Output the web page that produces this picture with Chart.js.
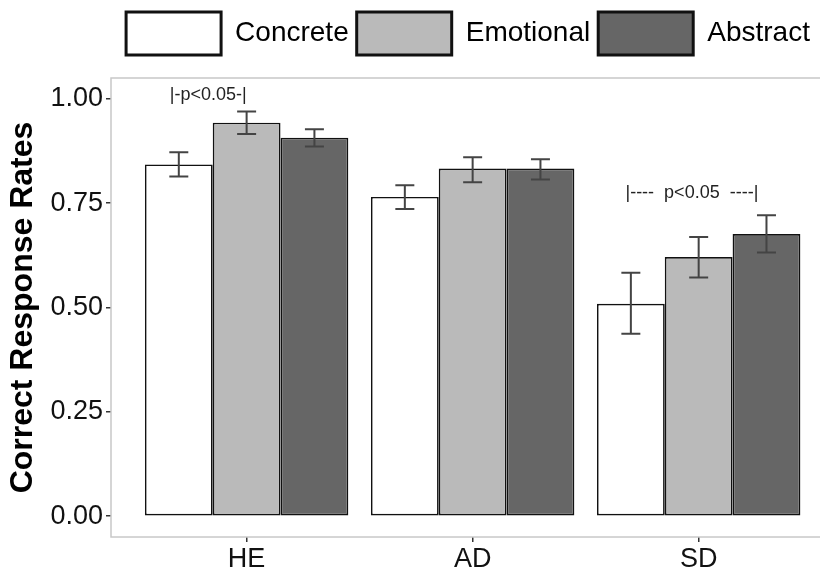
<!DOCTYPE html>
<html>
<head>
<meta charset="utf-8">
<script src="https://cdn.jsdelivr.net/npm/chart.js@4/dist/chart.umd.min.js"></script>
<style>
  html, body { margin: 0; padding: 0; background: #fff; overflow: hidden; }
  #wrap { width: 820px; height: 574px; overflow: hidden; }
</style>
</head>
<body>
<div id="wrap"><canvas id="chart" width="936" height="574"></canvas></div>
<script>
const groups = ['HE', 'AD', 'SD'];
const seriesNames = ['Concrete', 'Emotional', 'Abstract'];
const seriesColors = ['#ffffff', '#bababa', '#666666'];

const concrete = [0.843, 0.765, 0.509];
const emotional = [0.943, 0.833, 0.621];
const abstract = [0.907, 0.833, 0.676];

const concreteLow = [0.814, 0.736, 0.437];
const concreteHigh = [0.872, 0.793, 0.583];
const emotionalLow = [0.916, 0.800, 0.572];
const emotionalHigh = [0.970, 0.860, 0.669];
const abstractLow = [0.886, 0.807, 0.632];
const abstractHigh = [0.927, 0.855, 0.721];

const yTicks = [0, 0.25, 0.5, 0.75, 1.0];

const noteTexts = ['|-p<0.05-|', '|----  p<0.05  ----|'];
const noteX = [0.83, 2.97];
const noteY = [1.01, 0.775];

const values = [concrete, emotional, abstract];
const lows = [concreteLow, emotionalLow, abstractLow];
const highs = [concreteHigh, emotionalHigh, abstractHigh];

const datasets = seriesNames.map((name, i) => ({
    label: name,
    data: values[i].map((v, j) => ({ x: j + 1, y: v })),
    backgroundColor: seriesColors[i],
    borderColor: '#111',
    borderWidth: 1.7,
    borderSkipped: false,
    categoryPercentage: 0.9,
    barPercentage: 1.0
}));

const errorBars = {
    id: 'errorBars',
    afterDatasetsDraw(chart) {
        const ctx = chart.ctx;
        const yScale = chart.scales.y;
        ctx.save();
        ctx.strokeStyle = '#444';
        ctx.lineWidth = 2;
        chart.data.datasets.forEach((ds, i) => {
            const meta = chart.getDatasetMeta(i);
            meta.data.forEach((bar, j) => {
                const top = yScale.getPixelForValue(highs[i][j]);
                const bottom = yScale.getPixelForValue(lows[i][j]);
                const half = bar.width * 0.14;
                ctx.beginPath();
                ctx.moveTo(bar.x, top);
                ctx.lineTo(bar.x, bottom);
                ctx.moveTo(bar.x - half, top);
                ctx.lineTo(bar.x + half, top);
                ctx.moveTo(bar.x - half, bottom);
                ctx.lineTo(bar.x + half, bottom);
                ctx.stroke();
            });
        });
        ctx.restore();
    }
};

const panelAndNotes = {
    id: 'panelAndNotes',
    beforeInit(chart) {
        const fit = chart.legend.fit;
        chart.legend.fit = function () {
            fit.bind(this)();
            this.height += 13;
        };
    },
    afterDraw(chart) {
        const { ctx, chartArea, scales } = chart;
        ctx.save();
        ctx.strokeStyle = '#c8c8c8';
        ctx.lineWidth = 1.5;
        ctx.strokeRect(chartArea.left, chartArea.top, chartArea.right - chartArea.left + 5, chartArea.bottom - chartArea.top);
        ctx.fillStyle = '#222';
        ctx.font = '18px "Liberation Sans", Arial, sans-serif';
        ctx.textAlign = 'center';
        ctx.textBaseline = 'middle';
        noteTexts.forEach((t, k) => {
            ctx.fillText(t, scales.x.getPixelForValue(noteX[k]), scales.y.getPixelForValue(noteY[k]));
        });
        ctx.restore();
    }
};

new Chart(document.getElementById('chart'), {
    type: 'bar',
    data: { datasets: datasets },
    options: {
        responsive: false,
        animation: false,
        layout: { padding: { top: 4, left: 0, right: 0, bottom: 0 } },
        plugins: {
            legend: {
                position: 'top',
                align: 'center',
                labels: {
                    boxWidth: 95,
                    boxHeight: 43,
                    padding: 8,
                    color: '#000',
                    font: { family: '"Liberation Sans", Arial, sans-serif', size: 28 },
                    generateLabels(chart) {
                        return Chart.defaults.plugins.legend.labels.generateLabels(chart).map(l => {
                            l.lineWidth = 3;
                            l.strokeStyle = '#111';
                            return l;
                        });
                    }
                }
            },
            tooltip: { enabled: false }
        },
        scales: {
            x: {
                type: 'linear',
                offset: false,
                min: 0.4,
                max: 4.05,
                afterBuildTicks(scale) {
                    scale.ticks = groups.map((g, i) => ({ value: i + 1 }));
                },
                afterFit(scale) { scale.height = 37; },
                ticks: {
                    color: '#111',
                    padding: 1,
                    font: { family: '"Liberation Sans", Arial, sans-serif', size: 27 },
                    callback: (v) => groups[v - 1]
                },
                grid: { offset: false, drawOnChartArea: false, tickLength: 5, color: '#333', lineWidth: 1.5 },
                border: { display: false }
            },
            y: {
                min: -0.05,
                max: 1.05,
                afterBuildTicks(scale) {
                    scale.ticks = yTicks.map(v => ({ value: v }));
                },
                afterFit(scale) { scale.width = 111; },
                ticks: {
                    color: '#111',
                    padding: 3,
                    font: { family: '"Liberation Sans", Arial, sans-serif', size: 27 },
                    callback: (v) => v.toFixed(2)
                },
                grid: { drawOnChartArea: false, tickLength: 5, color: '#333', lineWidth: 1.5 },
                border: { display: false },
                title: {
                    display: true,
                    text: 'Correct Response Rates',
                    color: '#000',
                    padding: { top: 4, bottom: 0 },
                    font: { family: '"Liberation Sans", Arial, sans-serif', size: 32, weight: 'bold' }
                }
            }
        }
    },
    plugins: [errorBars, panelAndNotes]
});
</script>
</body>
</html>
